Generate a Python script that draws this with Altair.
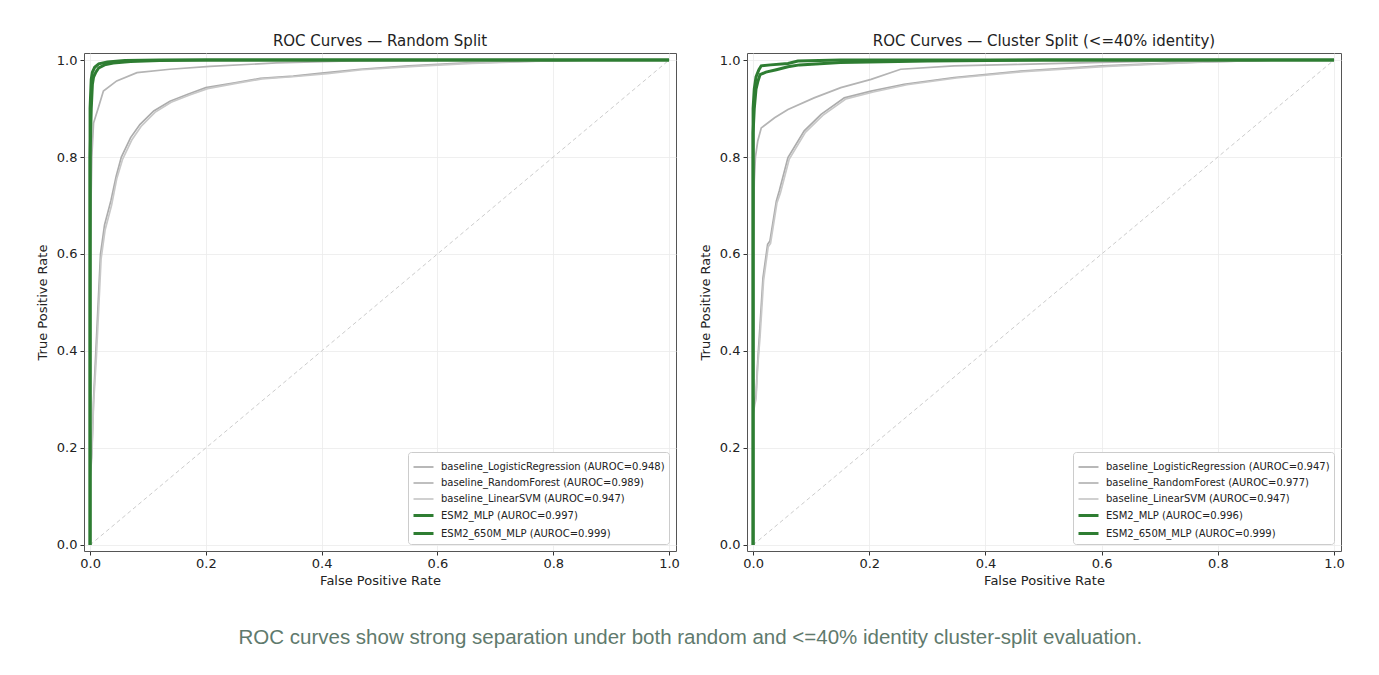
import altair as alt
import pandas as pd

# ---------------- data ----------------
MODELS = [
    "baseline_LogisticRegression",
    "baseline_RandomForest",
    "baseline_LinearSVM",
    "ESM2_MLP",
    "ESM2_650M_MLP",
]
AUROC_RANDOM = [0.948, 0.989, 0.947, 0.997, 0.999]
AUROC_CLUSTER = [0.947, 0.977, 0.947, 0.996, 0.999]

TICKS = [0.0, 0.2, 0.4, 0.6, 0.8, 1.0]
DIAG = [0.0, 1.0]

# Random split curves (FPR, TPR)
lr_r_fpr = [0, 0, 0.003, 0.006, 0.010, 0.014, 0.018, 0.025, 0.036, 0.045, 0.054, 0.07, 0.086, 0.11, 0.138, 0.17, 0.2, 0.25, 0.294, 0.351, 0.4, 0.466, 0.55, 0.65, 0.75, 0.85, 1.0]
lr_r_tpr = [0, 0.15, 0.19, 0.30, 0.40, 0.50, 0.60, 0.66, 0.71, 0.76, 0.80, 0.84, 0.867, 0.895, 0.915, 0.93, 0.943, 0.953, 0.962, 0.967, 0.973, 0.981, 0.988, 0.994, 0.997, 1.0, 1.0]
rf_r_fpr = [0, 0, 0.003, 0.006, 0.0144, 0.023, 0.046, 0.081, 0.138, 0.207, 0.322, 0.466, 0.6, 1.0]
rf_r_tpr = [0, 0.60, 0.80, 0.87, 0.902, 0.936, 0.957, 0.974, 0.981, 0.987, 0.994, 0.9986, 1.0, 1.0]
svm_r_fpr = [0, 0, 0.003, 0.006, 0.011, 0.015, 0.019, 0.026, 0.037, 0.046, 0.056, 0.072, 0.088, 0.112, 0.14, 0.172, 0.203, 0.252, 0.297, 0.355, 0.41, 0.47, 0.56, 0.66, 0.76, 0.86, 1.0]
svm_r_tpr = [0, 0.14, 0.18, 0.29, 0.39, 0.49, 0.59, 0.65, 0.70, 0.755, 0.795, 0.835, 0.863, 0.892, 0.913, 0.928, 0.941, 0.952, 0.961, 0.966, 0.972, 0.980, 0.987, 0.993, 0.997, 1.0, 1.0]
esm_r_fpr = [0, 0, 0.002, 0.004, 0.006, 0.010, 0.015, 0.025, 0.04, 0.07, 0.12, 0.2, 1.0]
esm_r_tpr = [0, 0.80, 0.90, 0.95, 0.965, 0.975, 0.984, 0.990, 0.994, 0.997, 0.999, 1.0, 1.0]
esm650_r_fpr = [0, 0, 0.002, 0.004, 0.008, 0.015, 0.03, 0.06, 0.12, 1.0]
esm650_r_tpr = [0, 0.90, 0.96, 0.975, 0.985, 0.992, 0.996, 0.999, 1.0, 1.0]

# Cluster split curves (FPR, TPR)
lr_c_fpr = [0, 0, 0.003, 0.005, 0.008, 0.011, 0.017, 0.025, 0.029, 0.04, 0.045, 0.06, 0.088, 0.117, 0.157, 0.203, 0.26, 0.346, 0.46, 0.6, 0.75, 0.9, 1.0]
lr_c_tpr = [0, 0.28, 0.30, 0.31, 0.38, 0.435, 0.551, 0.62, 0.627, 0.709, 0.73, 0.799, 0.854, 0.888, 0.922, 0.936, 0.95, 0.964, 0.977, 0.988, 0.995, 1.0, 1.0]
rf_c_fpr = [0, 0, 0.002, 0.004, 0.008, 0.014, 0.037, 0.06, 0.105, 0.151, 0.203, 0.254, 0.346, 0.46, 0.6, 0.75, 1.0]
rf_c_tpr = [0, 0.60, 0.75, 0.80, 0.833, 0.86, 0.881, 0.898, 0.922, 0.943, 0.96, 0.981, 0.988, 0.991, 0.995, 0.999, 1.0]
svm_c_fpr = [0, 0, 0.003, 0.005, 0.008, 0.012, 0.018, 0.026, 0.030, 0.041, 0.047, 0.062, 0.09, 0.12, 0.16, 0.207, 0.265, 0.35, 0.465, 0.61, 0.76, 0.9, 1.0]
svm_c_tpr = [0, 0.27, 0.29, 0.30, 0.37, 0.43, 0.545, 0.615, 0.622, 0.705, 0.726, 0.795, 0.851, 0.886, 0.92, 0.934, 0.949, 0.963, 0.976, 0.987, 0.995, 1.0, 1.0]
esm_c_fpr = [0, 0, 0.002, 0.005, 0.008, 0.012, 0.022, 0.04, 0.06, 0.08, 0.15, 0.3, 0.5, 1.0]
esm_c_tpr = [0, 0.85, 0.90, 0.94, 0.955, 0.97, 0.975, 0.98, 0.986, 0.99, 0.995, 0.998, 1.0, 1.0]
esm650_c_fpr = [0, 0, 0.002, 0.005, 0.01, 0.014, 0.03, 0.06, 0.077, 0.15, 1.0]
esm650_c_tpr = [0, 0.90, 0.94, 0.965, 0.98, 0.988, 0.99, 0.993, 0.998, 1.0, 1.0]

CURVES_RANDOM = [(lr_r_fpr, lr_r_tpr), (rf_r_fpr, rf_r_tpr), (svm_r_fpr, svm_r_tpr),
                 (esm_r_fpr, esm_r_tpr), (esm650_r_fpr, esm650_r_tpr)]
CURVES_CLUSTER = [(lr_c_fpr, lr_c_tpr), (rf_c_fpr, rf_c_tpr), (svm_c_fpr, svm_c_tpr),
                  (esm_c_fpr, esm_c_tpr), (esm650_c_fpr, esm650_c_tpr)]

COLORS = ["#acacac", "#b4b4b4", "#c8c8c8", "#2e7d32", "#2e7d32"]
WIDTHS = [1.7, 1.7, 1.7, 3.0, 3.0]

CAPTION = "ROC curves show strong separation under both random and <=40% identity cluster-split evaluation."
FONT = "DejaVu Sans"


def build_df(curves, aurocs):
    rows = []
    labels = []
    for k, (m, (fx, ty), a) in enumerate(zip(MODELS, curves, aurocs)):
        lab = f"{m} (AUROC={a:.3f})"
        labels.append(lab)
        for i, (xv, yv) in enumerate(zip(fx, ty)):
            rows.append({"model": lab, "fpr": xv, "tpr": yv, "i": i,
                         "kind": "base" if k < 3 else "esm"})
    return pd.DataFrame(rows), labels


def panel(title, curves, aurocs, width):
    df, labels = build_df(curves, aurocs)
    xs = alt.Scale(domain=[-0.0105, 1.012], nice=False, zero=False)
    ys = alt.Scale(domain=[-0.0125, 1.0145], nice=False, zero=False)
    x = alt.X("fpr:Q", scale=xs,
              axis=alt.Axis(values=TICKS, format=".1f", title="False Positive Rate",
                            titlePadding=4, labelPadding=2))
    y = alt.Y("tpr:Q", scale=ys,
              axis=alt.Axis(values=TICKS, format=".1f", title="True Positive Rate",
                            titlePadding=7, labelPadding=3))
    leg = alt.Legend(title=None, orient="bottom-right", offset=7, fillColor="white",
                     strokeColor="#cccccc", padding=4, cornerRadius=3,
                     labelFont=FONT, labelFontSize=10, labelLimit=500, labelColor="#222222",
                     symbolType="stroke", symbolSize=400, rowPadding=0, labelOffset=6)
    color = alt.Color("model:N", sort=labels,
                      scale=alt.Scale(domain=labels, range=COLORS), legend=leg)
    sw = alt.StrokeWidth("model:O", sort=labels,
                         scale=alt.Scale(type="ordinal", domain=labels, range=WIDTHS),
                         legend=leg)

    diag_df = pd.DataFrame({"fpr": DIAG, "tpr": DIAG})
    diag = alt.Chart(diag_df).mark_line(strokeDash=[4, 3], color="#cccccc",
                                        strokeWidth=1).encode(
        x=alt.X("fpr:Q", scale=xs), y=alt.Y("tpr:Q", scale=ys))
    base = alt.Chart(df[df["kind"] == "base"]).mark_line(clip=True).encode(
        x=x, y=y, color=color, strokeWidth=sw, order="i:Q")
    esm = alt.Chart(df[df["kind"] == "esm"]).mark_line(clip=True).encode(
        x=x, y=y, color=color, strokeWidth=sw, order="i:Q")
    return alt.layer(diag, base, esm).properties(
        width=width, height=498,
        title=alt.Title(title, fontSize=15, font=FONT, fontWeight="normal",
                        color="#222222", offset=4))


left = panel("ROC Curves — Random Split", CURVES_RANDOM, AUROC_RANDOM, 592)
right = panel("ROC Curves — Cluster Split (<=40% identity)", CURVES_CLUSTER, AUROC_CLUSTER, 594)

chart = alt.hconcat(left, right, spacing=18).resolve_scale(
    color="independent", strokeWidth="independent"
).properties(
    title=alt.Title(CAPTION, orient="bottom", anchor="middle", fontSize=20.5,
                    font="Liberation Sans", fontWeight="normal", color="#5f7a6d",
                    offset=40),
    padding={"left": 27, "top": 25, "right": 10, "bottom": 10},
    background="white",
).configure_view(
    stroke="#555555", strokeWidth=1
).configure_axis(
    grid=True, gridColor="#ebebeb", gridWidth=0.8, domain=False,
    tickColor="#333333", tickSize=4, labelFont=FONT, labelFontSize=13,
    labelColor="#222222", titleFont=FONT, titleFontSize=13,
    titleFontWeight="normal", titleColor="#222222"
)

chart.save("out.html", embed_options={"renderer": "svg", "actions": False})
